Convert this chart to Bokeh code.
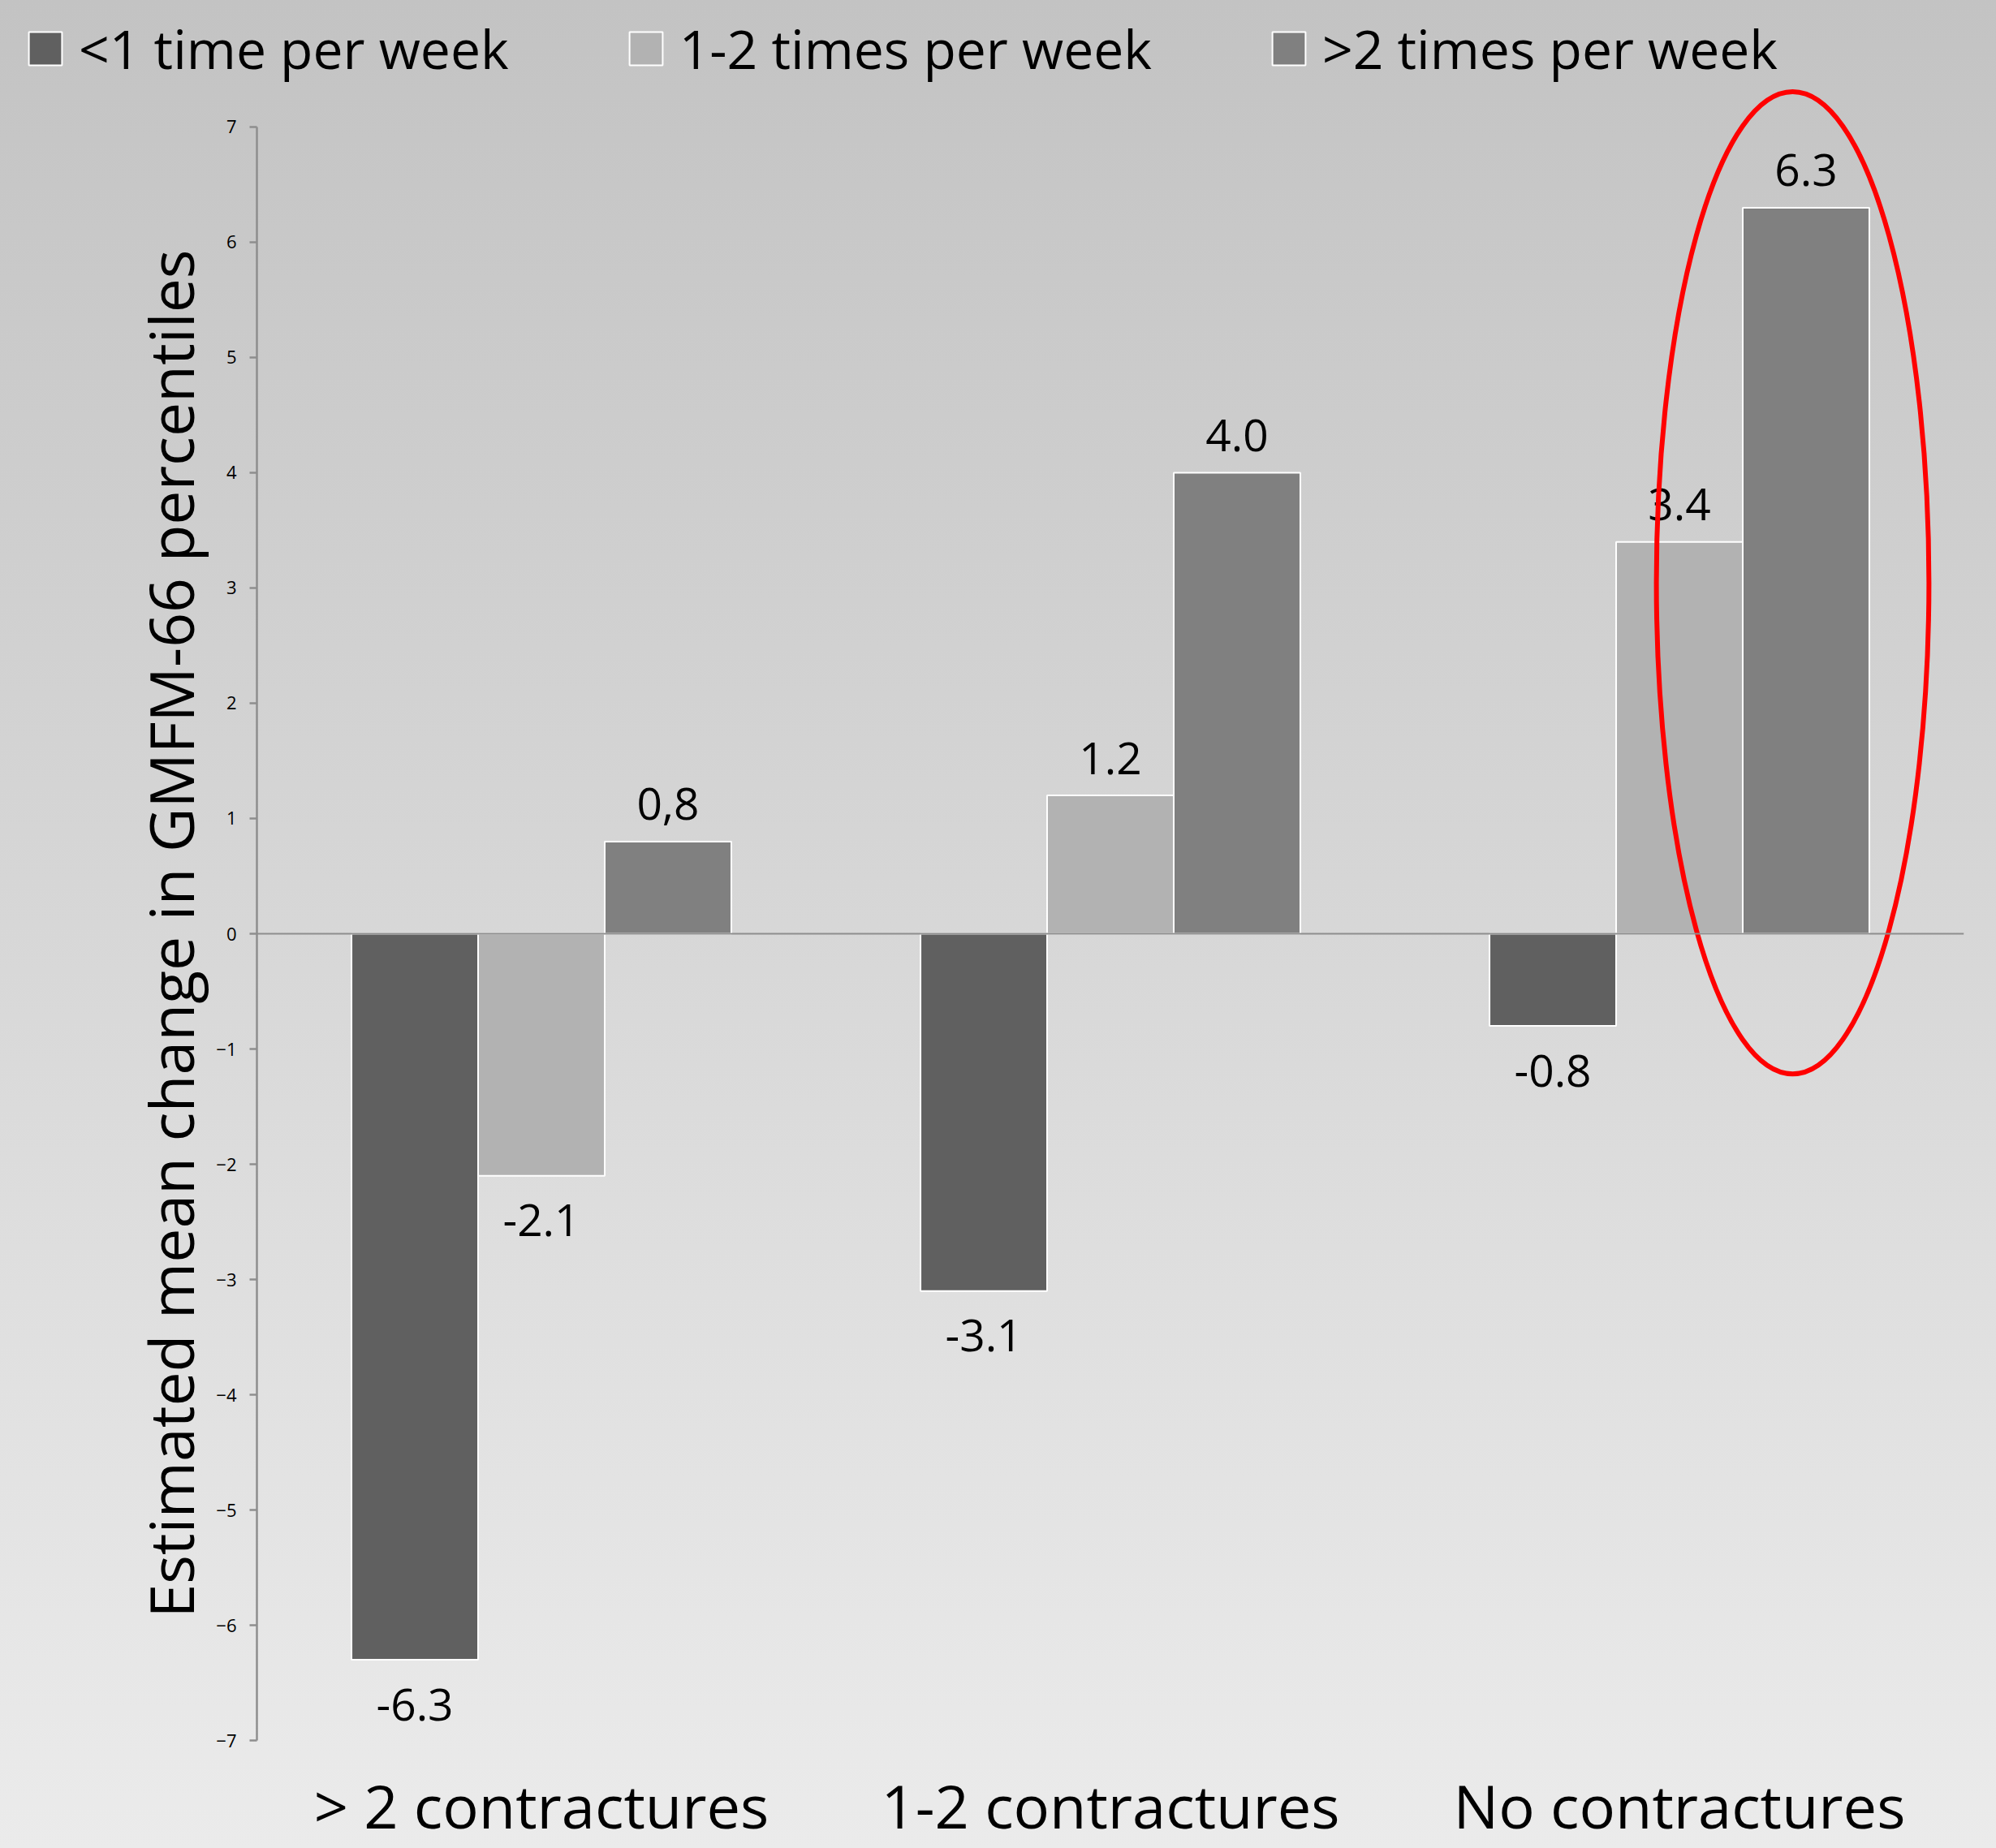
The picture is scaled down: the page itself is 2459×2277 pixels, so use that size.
from bokeh.plotting import figure
from bokeh.layouts import column
from bokeh.models import ColumnDataSource, FixedTicker, Span, Legend, LegendItem, FactorRange, Range1d
from bokeh.transform import dodge
from bokeh.embed import file_html
from bokeh.resources import INLINE
from bokeh.core.properties import value

# ---- data ----
categories = ["> 2 contractures", "1-2 contractures", "No contractures"]
series_names = ["<1 time per week", "1-2 times per week", ">2 times per week"]
less_than_1 = [-6.3, -3.1, -0.8]
one_to_two = [-2.1, 1.2, 3.4]
more_than_2 = [0.8, 4.0, 6.3]
less_than_1_labels = ["-6.3", "-3.1", "-0.8"]
one_to_two_labels = ["-2.1", "1.2", "3.4"]
more_than_2_labels = ["0,8", "4.0", "6.3"]
y_ticks = [-7, -6, -5, -4, -3, -2, -1, 0, 1, 2, 3, 4, 5, 6, 7]
y_label = "Estimated mean change in GMFM-66 percentiles"

FONT = "Open Sans"
colors = ["#606060", "#b2b2b2", "#808080"]
bar_w = 0.2225
offsets = [-bar_w, 0.0, bar_w]

W = 2459
LEG_H = 108
MAIN_H = 2277 - LEG_H

# ---- main chart ----
p = figure(width=W, height=MAIN_H, x_range=FactorRange(*categories),
           y_range=Range1d(-7.338, 7.338), output_backend="svg", toolbar_location=None,
           min_border_left=316, min_border_right=40, min_border_top=0, min_border_bottom=84,
           background_fill_alpha=0, border_fill_alpha=0, outline_line_color=None)
p.xgrid.visible = False
p.ygrid.visible = False

ya = p.yaxis[0]
ya.ticker = FixedTicker(ticks=y_ticks)
ya.bounds = (-7, 7)
ya.axis_line_color = "#8e8e8e"
ya.axis_line_width = 2.5
ya.major_tick_line_color = "#8e8e8e"
ya.major_tick_line_width = 2.5
ya.major_tick_out = 9
ya.major_tick_in = 0
ya.minor_tick_line_color = None
ya.major_label_text_font = FONT
ya.major_label_text_font_size = "22px"
ya.major_label_text_color = "black"
ya.major_label_standoff = 16
ya.axis_label = y_label
ya.axis_label_text_font = FONT
ya.axis_label_text_font_size = "75px"
ya.axis_label_text_font_style = "normal"
ya.axis_label_text_color = "black"
ya.axis_label_standoff = 2

xa = p.xaxis[0]
xa.axis_line_color = None
xa.major_tick_line_color = None
xa.major_tick_out = 0
xa.major_tick_in = 0
xa.minor_tick_line_color = None
xa.major_label_text_font = FONT
xa.major_label_text_font_size = "74px"
xa.major_label_text_line_height = 1.0
xa.major_label_text_color = "black"
xa.major_label_standoff = -19

all_vals = [less_than_1, one_to_two, more_than_2]
all_labels = [less_than_1_labels, one_to_two_labels, more_than_2_labels]
sources = []
for name, vals, labs, col, off in zip(series_names, all_vals, all_labels, colors, offsets):
    src = ColumnDataSource(dict(
        cat=categories, val=vals, label=labs,
        yoff=[-46 if v >= 0 else 55 for v in vals]))
    sources.append(src)
    p.vbar(x=dodge("cat", off, range=p.x_range), top="val", bottom=0, width=bar_w,
           source=src, fill_color=col, line_color="white", line_width=2)
    p.text(x=dodge("cat", off, range=p.x_range), y="val", text="label", source=src,
           y_offset="yoff", text_align="center", text_baseline="alphabetic",
           text_font=value(FONT), text_font_size="55px", text_color="black")

p.add_layout(Span(location=0, dimension="width", line_color="#8e8e8e", line_width=2))

# highlight ellipse around the "No contractures" positive bars
esrc = ColumnDataSource(dict(cat=["No contractures"], y=[3.045]))
p.ellipse(x=dodge("cat", 0.199, range=p.x_range), y="y", width=0.479, height=8.53,
          source=esrc, fill_color=None, line_color="#ff0000", line_width=6)

# ---- legend strip (hidden copies of the series; only their legend shows) ----
lf = figure(width=W, height=LEG_H, x_range=FactorRange(*categories), y_range=Range1d(100, 101),
            output_backend="svg", toolbar_location=None,
            min_border=0, background_fill_alpha=0, border_fill_alpha=0, outline_line_color=None)
if "frame_align" in lf.properties():
    lf.frame_align = False
lf.axis.visible = False
lf.grid.visible = False
proxies = []
for src, col, off in zip(sources, colors, offsets):
    r = lf.vbar(x=dodge("cat", off, range=lf.x_range), top="val", bottom=0,
                width=bar_w, source=src, fill_color=col,
                line_color="white", line_width=2)
    r.visible = False
    proxies.append(r)
legend = Legend(items=[LegendItem(label=n, renderers=[r]) for n, r in zip(series_names, proxies)],
                orientation="horizontal", location=(30, 4),
                glyph_width=51, glyph_height=51, label_standoff=16, spacing=143,
                label_text_font=FONT, label_text_font_size="66px", label_text_color="black",
                background_fill_alpha=0, border_line_color=None, padding=0, margin=0,
                inactive_fill_alpha=0)
lf.add_layout(legend)

layout = column(lf, p, spacing=0)

html = file_html(layout, INLINE, title="chart")
style = ("<style>html{background:linear-gradient(to bottom,#c3c3c3 0%,#ebebeb 100%);"
         "min-height:100%;} body{background:transparent;}</style>")
html = html.replace("</head>", style + "</head>", 1)
open("out.html", "w").write(html)
